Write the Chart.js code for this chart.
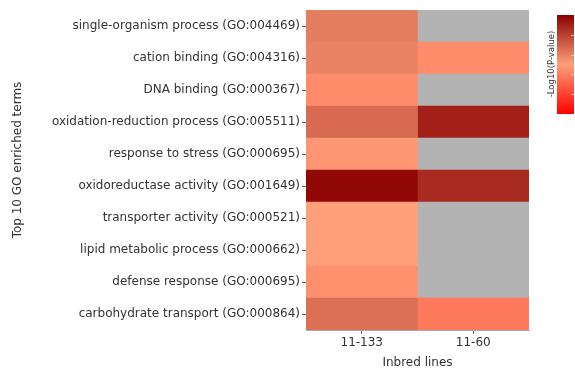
<!DOCTYPE html>
<html>
<head>
<meta charset="utf-8">
<script src="https://cdn.jsdelivr.net/npm/chart.js@4"></script>
<style>
  html, body { margin: 0; padding: 0; background: #fff; }
  #wrap { width: 575px; height: 369px; }
</style>
</head>
<body>
<div id="wrap"><canvas id="goChart" width="575" height="369"></canvas></div>
<script>
// GO terms, top to bottom
const terms = [
  "single-organism process (GO:004469)",
  "cation binding (GO:004316)",
  "DNA binding (GO:000367)",
  "oxidation-reduction process (GO:005511)",
  "response to stress (GO:000695)",
  "oxidoreductase activity (GO:001649)",
  "transporter activity (GO:000521)",
  "lipid metabolic process (GO:000662)",
  "defense response (GO:000695)",
  "carbohydrate transport (GO:000864)"
];
const lines = ["11-133", "11-60"];

// -log10(P-value) per term, null = not enriched (grey)
const line11_133 = [6.1, 5.9, 4.4, 6.7, 4.7, 9.75, 5.0, 5.0, 4.5, 6.5];
const line11_60 = [null, 4.4, null, 9.0, null, 8.7, null, null, null, 3.8];

const colorRange = [0, 10];
const colorTicks = [2, 4, 6, 8];
const colorStops = [[0, [255, 0, 0]], [0.5, [255, 160, 122]], [1, [139, 0, 0]]];
const naColor = "#B3B3B3";
const textColor = "#333";

function heatColor(v) {
  if (v === null) return naColor;
  let t = (v - colorRange[0]) / (colorRange[1] - colorRange[0]);
  t = Math.max(0, Math.min(1, t));
  for (let i = 1; i < colorStops.length; i++) {
    if (t <= colorStops[i][0]) {
      const a = colorStops[i - 1], b = colorStops[i];
      const f = (t - a[0]) / (b[0] - a[0]);
      const c = a[1].map((x, k) => Math.round(x + (b[1][k] - x) * f));
      return "rgb(" + c.join(",") + ")";
    }
  }
  return "rgb(" + colorStops[colorStops.length - 1][1].join(",") + ")";
}

// colour bar and y axis title (sits a bit above the plot centre)
const extras = {
  id: "extras",
  afterDraw(chart) {
    const ctx = chart.ctx;
    const x = 557, w = 17, top = 15, bottom = 114;
    const g = ctx.createLinearGradient(0, bottom, 0, top);
    colorStops.forEach(s => g.addColorStop(s[0], "rgb(" + s[1].join(",") + ")"));
    ctx.save();
    ctx.fillStyle = g;
    ctx.fillRect(x, top, w, bottom - top);
    ctx.strokeStyle = "rgba(255,255,255,0.6)";
    ctx.lineWidth = 1;
    colorTicks.forEach(v => {
      const y = Math.round(bottom - (v - colorRange[0]) / (colorRange[1] - colorRange[0]) * (bottom - top)) + 0.5;
      ctx.beginPath();
      ctx.moveTo(x + w - 3, y);
      ctx.lineTo(x + w, y);
      ctx.stroke();
    });
    ctx.fillStyle = textColor;
    ctx.textAlign = "center";
    ctx.textBaseline = "middle";

    ctx.save();
    ctx.translate(551.5, 64);
    ctx.rotate(-Math.PI / 2);
    ctx.font = "8.5px 'DejaVu Sans'";
    ctx.fillText("-Log10(P-value)", 0, 0);
    ctx.restore();

    ctx.translate(17.5, 160);
    ctx.rotate(-Math.PI / 2);
    ctx.font = "12px 'DejaVu Sans'";
    ctx.fillText("Top 10 GO enriched terms", 0, 0);
    ctx.restore();
  }
};

const ctx = document.getElementById("goChart").getContext("2d");
new Chart(ctx, {
  type: "bar",
  data: {
    labels: terms,
    datasets: [
      {
        label: lines[0],
        data: line11_133.map(() => 1),
        backgroundColor: line11_133.map(heatColor),
        borderWidth: 0,
        barPercentage: 1,
        categoryPercentage: 1
      },
      {
        label: lines[1],
        data: line11_60.map(() => 1),
        backgroundColor: line11_60.map(heatColor),
        borderWidth: 0,
        barPercentage: 1,
        categoryPercentage: 1
      }
    ]
  },
  options: {
    indexAxis: "y",
    responsive: false,
    animation: false,
    layout: { padding: { left: 8, right: 46, top: 10, bottom: 0 } },
    plugins: {
      legend: { display: false },
      tooltip: { enabled: false }
    },
    scales: {
      x: {
        type: "linear",
        stacked: true,
        min: 0,
        max: 2,
        afterBuildTicks: axis => { axis.ticks = [{ value: 0.5 }, { value: 1.5 }]; },
        afterFit: axis => { axis.height = 39; },
        ticks: {
          callback: v => lines[Math.floor(v)],
          color: textColor,
          font: { family: "DejaVu Sans", size: 12 },
          padding: 2
        },
        grid: { drawOnChartArea: false, tickLength: 4, color: "#666" },
        border: { display: true, color: "#aaa" },
        title: {
          display: true,
          text: "Inbred lines",
          color: textColor,
          font: { family: "DejaVu Sans", size: 12 },
          padding: { top: 4, bottom: -1.5 }
        }
      },
      y: {
        stacked: true,
        afterFit: axis => { axis.width = 298; },
        ticks: {
          color: textColor,
          font: { family: "DejaVu Sans", size: 12 },
          padding: 2
        },
        grid: { drawOnChartArea: false, offset: false, tickLength: 4, color: "#666" },
        border: { display: true, color: "#aaa" }
      }
    }
  },
  plugins: [extras]
});
</script>
</body>
</html>
